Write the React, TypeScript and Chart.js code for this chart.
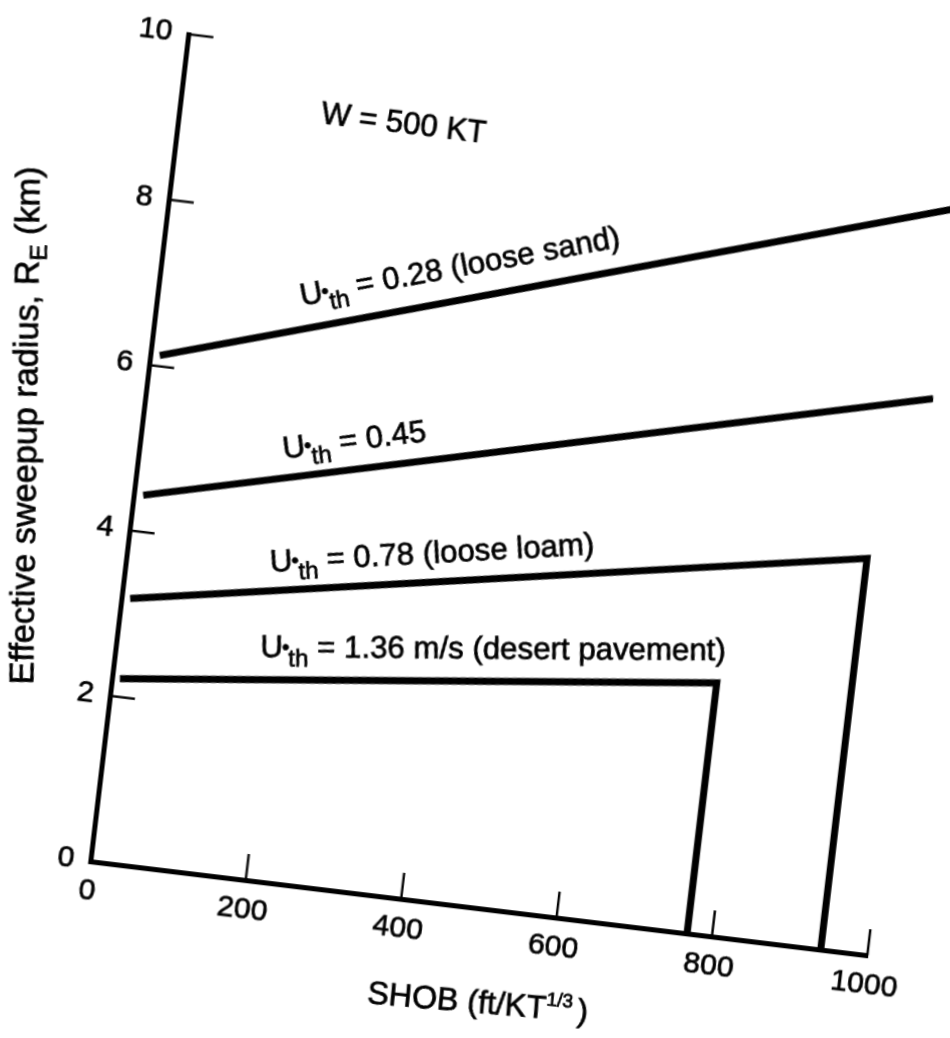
import React, { useEffect, useRef } from "react";
import { Chart, registerables } from "chart.js";

Chart.register(...registerables);

const FONT = '"Liberation Sans", Arial, Helvetica, sans-serif';
const STROKE = 0.7;

// Axis ticks
const xTicks = [0, 200, 400, 600, 800, 1000];
const yTicks = [0, 2, 4, 6, 8, 10];

// Series (SHOB in ft/KT^1/3, R_E in km)
const looseSandX = [12, 1000];
const looseSandY = [6.13, 9.03];
const u045X = [12, 1000];
const u045Y = [4.44, 6.73];
const looseLoamX = [11, 940, 940];
const looseLoamY = [3.19, 4.73, 0];
const desertX = [10, 768, 768];
const desertY = [2.22, 3.03, 0];

const seriesNames = [
  "0.28 (loose sand)",
  "0.45",
  "0.78 (loose loam)",
  "1.36 m/s (desert pavement)",
];

// Label anchors (data space)
const labelAnchorX = [185, 185, 185, 185];
const labelAnchorY = [6.93, 5.08, 3.71, 2.68];

const series = [
  { xs: looseSandX, ys: looseSandY },
  { xs: u045X, ys: u045Y },
  { xs: looseLoamX, ys: looseLoamY },
  { xs: desertX, ys: desertY },
];

function txt(ctx: CanvasRenderingContext2D, s: string, x: number, y: number) {
  ctx.fillText(s, x, y);
  ctx.strokeText(s, x, y);
}

function drawUth(ctx: CanvasRenderingContext2D, x0: number, y0: number, angle: number, rest: string) {
  ctx.save();
  ctx.translate(x0, y0);
  ctx.rotate(angle);
  ctx.fillStyle = "#000";
  ctx.strokeStyle = "#000";
  ctx.lineWidth = STROKE;
  ctx.textAlign = "left";
  ctx.textBaseline = "alphabetic";
  ctx.font = `31px ${FONT}`;
  txt(ctx, "U", 0, 0);
  let x = ctx.measureText("U").width;
  ctx.font = `21px ${FONT}`;
  txt(ctx, "\u2022", x - 1, -3);
  x += ctx.measureText("\u2022").width - 2;
  ctx.font = `24px ${FONT}`;
  txt(ctx, "th", x, 9);
  x += ctx.measureText("th").width;
  ctx.font = `31px ${FONT}`;
  txt(ctx, " = " + rest, x, 0);
  ctx.restore();
}

const annotatePlugin = {
  id: "annotate",
  afterDraw(chart: any) {
    const { ctx, chartArea: a } = chart;
    const xs = chart.scales.x;
    const ys = chart.scales.y;
    ctx.save();
    // inward tick marks
    ctx.strokeStyle = "#000";
    ctx.lineWidth = 2.4;
    ctx.lineCap = "butt";
    xTicks.forEach((v) => {
      if (v === 0) return;
      const px = xs.getPixelForValue(v);
      ctx.beginPath();
      ctx.moveTo(px, a.bottom);
      ctx.lineTo(px, a.bottom - 26);
      ctx.stroke();
    });
    yTicks.forEach((v) => {
      if (v === 0) return;
      const py = ys.getPixelForValue(v);
      ctx.beginPath();
      ctx.moveTo(a.left, py);
      ctx.lineTo(a.left + 25, py);
      ctx.stroke();
    });

    // series labels parallel to the first segment of each line
    series.forEach((s, i) => {
      const p1x = xs.getPixelForValue(s.xs[0]);
      const p1y = ys.getPixelForValue(s.ys[0]);
      const p2x = xs.getPixelForValue(s.xs[1]);
      const p2y = ys.getPixelForValue(s.ys[1]);
      const ang = Math.atan2(p2y - p1y, p2x - p1x);
      drawUth(ctx, xs.getPixelForValue(labelAnchorX[i]), ys.getPixelForValue(labelAnchorY[i]), ang, seriesNames[i]);
    });

    ctx.fillStyle = "#000";
    ctx.strokeStyle = "#000";
    ctx.lineWidth = STROKE;
    ctx.textAlign = "left";
    ctx.textBaseline = "alphabetic";

    // W = 500 KT
    ctx.font = `31px ${FONT}`;
    txt(ctx, "W = 500 KT", xs.getPixelForValue(180.8), ys.getPixelForValue(9.13));

    // x title
    ctx.save();
    ctx.translate(a.left + 289, a.bottom + 107);
    ctx.rotate((-2 * Math.PI) / 180);
    ctx.font = `32px ${FONT}`;
    let tx = 0;
    txt(ctx, "SHOB (ft/KT", tx, 0);
    tx += ctx.measureText("SHOB (ft/KT").width;
    ctx.font = `19px ${FONT}`;
    txt(ctx, "1/3", tx, -13);
    tx += ctx.measureText("1/3").width + 5;
    ctx.font = `32px ${FONT}`;
    txt(ctx, ")", tx, 0);
    ctx.restore();

    // y title
    ctx.save();
    ctx.translate(a.left - 104, a.bottom - 423);
    ctx.rotate((-96 * Math.PI) / 180);
    ctx.font = `34px ${FONT}`;
    const p1 = "Effective sweepup radius, R";
    const p3 = " (km)";
    const w1 = ctx.measureText(p1).width;
    const w3 = ctx.measureText(p3).width;
    ctx.font = `24px ${FONT}`;
    const w2 = ctx.measureText("E").width;
    let sx = -(w1 + w2 + w3) / 2;
    ctx.font = `34px ${FONT}`;
    txt(ctx, p1, sx, 0);
    sx += w1;
    ctx.font = `24px ${FONT}`;
    txt(ctx, "E", sx, 8);
    sx += w2;
    ctx.font = `34px ${FONT}`;
    txt(ctx, p3, sx, 0);
    ctx.restore();

    ctx.restore();
  },
};

export default function App() {
  const ref = useRef<HTMLCanvasElement | null>(null);

  useEffect(() => {
    if (!ref.current) return;
    Chart.defaults.font.family = FONT;
    const chart = new Chart(ref.current, {
      type: "line",
      data: {
        datasets: series.map((s) => ({
          data: s.xs.map((xv, i) => ({ x: xv, y: s.ys[i] })),
          borderColor: "#000",
          borderWidth: 7,
          pointRadius: 0,
          fill: false,
          tension: 0,
          borderJoinStyle: "miter" as const,
          borderCapStyle: "butt" as const,
        })),
      },
      options: {
        animation: false,
        responsive: false,
        devicePixelRatio: 1,
        layout: { padding: { left: 80, right: 123, top: 200, bottom: 0 } },
        plugins: { legend: { display: false }, tooltip: { enabled: false } },
        scales: {
          x: {
            type: "linear",
            min: 0,
            max: 1000,
            afterBuildTicks: (s: any) => {
              s.ticks = xTicks.map((value) => ({ value }));
            },
            afterFit: (s: any) => {
              s.height = 133;
            },
            grid: { display: false, drawTicks: false },
            border: { display: true, width: 5, color: "#000" },
            ticks: {
              color: "#000",
              font: { size: 30, family: FONT },
              padding: 12,
              maxRotation: 0,
              autoSkip: false,
              textStrokeColor: "#000",
              textStrokeWidth: STROKE,
              callback: (v: any) => String(v),
            },
          },
          y: {
            type: "linear",
            min: 0,
            max: 10,
            afterBuildTicks: (s: any) => {
              s.ticks = yTicks.map((value) => ({ value }));
            },
            afterFit: (s: any) => {
              s.width = 120;
            },
            grid: { display: false, drawTicks: false },
            border: { display: true, width: 5, color: "#000" },
            ticks: {
              color: "#000",
              font: { size: 30, family: FONT },
              padding: 16,
              autoSkip: false,
              textStrokeColor: "#000",
              textStrokeWidth: STROKE,
              callback: (v: any) => String(v),
            },
          },
        },
      },
      plugins: [annotatePlugin],
    });
    return () => chart.destroy();
  }, []);

  return (
    <div
      style={{
        position: "fixed",
        left: 0,
        top: 0,
        width: 950,
        height: 1038,
        overflow: "hidden",
        background: "#fff",
      }}
    >
      <canvas
        ref={ref}
        width={1100}
        height={1160}
        style={{
          position: "absolute",
          left: 11.7,
          top: -190.2,
          width: 1100,
          height: 1160,
          transform: "matrix(1, 0.120978, -0.118501, 1, 0, 0)",
          transformOrigin: "0 0",
        }}
      />
    </div>
  );
}
